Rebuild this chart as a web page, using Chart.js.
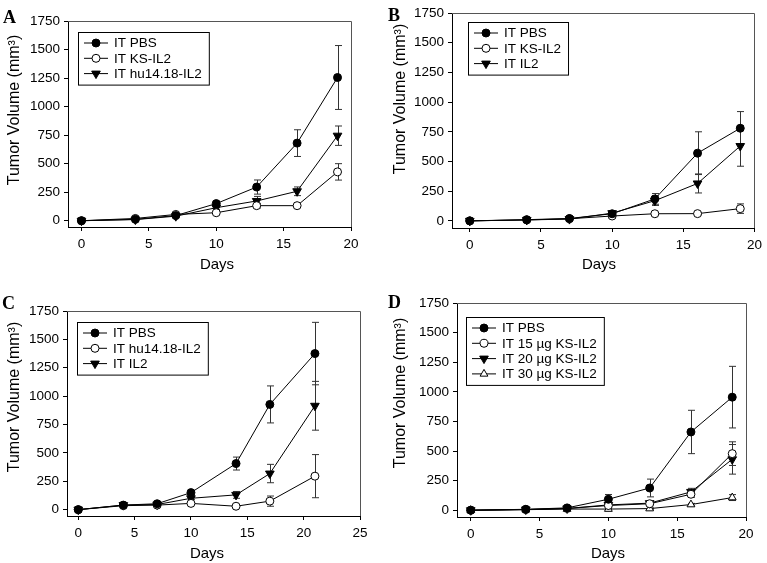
<!DOCTYPE html>
<html>
<head>
<meta charset="utf-8">
<script src="https://cdn.jsdelivr.net/npm/chart.js@4.4.1/dist/chart.umd.min.js"></script>
<style>
  body { margin: 0; background: #fff; }
  #fig { position: relative; width: 767px; height: 563px; }
  canvas { position: absolute; }
</style>
</head>
<body>
<div id="fig">
  <canvas id="panelA" width="383" height="280" style="left:0;top:0;width:383px;height:280px"></canvas>
  <canvas id="panelB" width="384" height="280" style="left:383px;top:0;width:384px;height:280px"></canvas>
  <canvas id="panelC" width="383" height="283" style="left:0;top:280px;width:383px;height:283px"></canvas>
  <canvas id="panelD" width="384" height="283" style="left:383px;top:280px;width:384px;height:283px"></canvas>
</div>
<script>
// Tick values
var yTicks = [0, 250, 500, 750, 1000, 1250, 1500, 1750];
var xTicks20 = [0, 5, 10, 15, 20];
var xTicks25 = [0, 5, 10, 15, 20, 25];

// Panel A
var daysA = [0, 4, 7, 10, 13, 16, 19];
var aPBS = [0, 12, 45, 150, 295, 680, 1255];
var aPBSErr = [0, 4, 6, 20, 62, 117, 280];
var aKS = [0, 20, 55, 70, 132, 132, 428];
var aKSErr = [0, 4, 5, 10, 20, 8, 72];
var aHu = [0, 10, 40, 114, 173, 258, 745];
var aHuErr = [0, 3, 5, 15, 40, 38, 85];

// Panel B
var daysB = [0, 4, 7, 10, 13, 16, 19];
var bPBS = [0, 10, 20, 60, 185, 570, 780];
var bPBSErr = [0, 3, 5, 8, 45, 180, 140];
var bKS = [0, 8, 18, 41, 60, 61, 103];
var bKSErr = [0, 3, 3, 5, 8, 10, 40];
var bIL2 = [0, 8, 15, 65, 170, 315, 630];
var bIL2Err = [0, 3, 3, 8, 40, 80, 170];

// Panel C
var daysC = [0, 4, 7, 10, 14, 17, 21];
var cPBS = [0, 40, 52, 150, 406, 927, 1375];
var cPBSErr = [0, 5, 8, 20, 57, 163, 275];
var cHu = [0, 35, 40, 55, 30, 75, 295];
var cHuErr = [0, 5, 5, 8, 8, 45, 190];
var cIL2 = [0, 40, 45, 100, 130, 318, 915];
var cIL2Err = [0, 5, 5, 12, 30, 81, 215];

// Panel D
var daysD = [0, 4, 7, 10, 13, 16, 19];
var dPBS = [0, 8, 20, 93, 188, 661, 955];
var dPBSErr = [0, 3, 5, 40, 75, 183, 260];
var d15 = [0, 6, 15, 40, 55, 135, 478];
var d15Err = [0, 2, 3, 8, 10, 25, 100];
var d20 = [0, 6, 15, 45, 60, 155, 430];
var d20Err = [0, 2, 3, 8, 10, 30, 125];
var d30 = [0, 5, 10, 10, 14, 48, 107];
var d30Err = [0, 2, 3, 5, 5, 10, 25];

var SANS = "'Liberation Sans', Arial, sans-serif";
var SERIF = "'Liberation Serif', 'Times New Roman', serif";

// marker styles
var STYLE = {
    solidCircle: { pointStyle: 'circle', rotation: 0, radius: 4, fill: '#000' },
    openCircle: { pointStyle: 'circle', rotation: 0, radius: 4, fill: '#fff' },
    solidTriDown: { pointStyle: 'triangle', rotation: 180, radius: 5, fill: '#000' },
    openTriUp: { pointStyle: 'triangle', rotation: 0, radius: 4.5, fill: '#fff' }
};

function series(label, days, values, errs, style) {
    var s = STYLE[style];
    return {
        label: label,
        data: days.map(function(d, i) { return { x: d, y: values[i] }; }),
        err: errs,
        marker: s,
        borderColor: '#000',
        borderWidth: 1,
        tension: 0,
        pointStyle: s.pointStyle,
        pointRotation: s.rotation,
        pointRadius: s.radius,
        pointBackgroundColor: s.fill,
        pointBorderColor: '#000',
        pointBorderWidth: 1
    };
}

// error bars, frame, legend, titles, panel letter
var panelDecor = {
    id: 'panelDecor',
    beforeDatasetsDraw: function(chart) {
        var ctx = chart.ctx;
        var ys = chart.scales.y;
        ctx.save();
        ctx.strokeStyle = '#333';
        ctx.lineWidth = 1;
        chart.data.datasets.forEach(function(ds, di) {
            var meta = chart.getDatasetMeta(di);
            ds.data.forEach(function(p, i) {
                var e = ds.err[i];
                if (!e) return;
                var x = Math.round(meta.data[i].x) + 0.5;
                var y1 = ys.getPixelForValue(p.y + e);
                var y2 = ys.getPixelForValue(p.y - e);
                ctx.beginPath();
                ctx.moveTo(x, y1); ctx.lineTo(x, y2);
                ctx.moveTo(x - 3.5, y1); ctx.lineTo(x + 3.5, y1);
                ctx.moveTo(x - 3.5, y2); ctx.lineTo(x + 3.5, y2);
                ctx.stroke();
            });
        });
        ctx.restore();
    },
    afterDraw: function(chart, args, opts) {
        var ctx = chart.ctx;
        var a = chart.chartArea;
        ctx.save();
        // top and right edges of the frame
        ctx.strokeStyle = '#555';
        ctx.lineWidth = 1;
        ctx.beginPath();
        ctx.moveTo(Math.round(a.left), Math.round(a.top) + 0.5);
        ctx.lineTo(Math.round(a.right) + 0.5, Math.round(a.top) + 0.5);
        ctx.lineTo(Math.round(a.right) + 0.5, Math.round(a.bottom));
        ctx.stroke();

        // legend
        var lg = opts.legend;
        ctx.font = '13.5px ' + SANS;
        var maxW = 0;
        chart.data.datasets.forEach(function(ds) {
            maxW = Math.max(maxW, ctx.measureText(ds.label).width);
        });
        var n = chart.data.datasets.length;
        var w = 36 + maxW + 7;
        var h = 22 + (n - 1) * 15.3;
        ctx.strokeStyle = '#000';
        ctx.strokeRect(lg.x + 0.5, lg.y + 0.5, w, h);
        chart.data.datasets.forEach(function(ds, i) {
            var yy = lg.y + 11 + i * 15.3;
            ctx.strokeStyle = '#000';
            ctx.beginPath();
            ctx.moveTo(lg.x + 6, yy);
            ctx.lineTo(lg.x + 30, yy);
            ctx.stroke();
            ctx.fillStyle = ds.marker.fill;
            ctx.strokeStyle = '#000';
            ctx.lineWidth = 1;
            Chart.helpers.drawPoint(ctx, {
                pointStyle: ds.marker.pointStyle,
                rotation: ds.marker.rotation,
                radius: ds.marker.radius,
                borderWidth: 1
            }, lg.x + 18, yy);
            ctx.fillStyle = '#000';
            ctx.textBaseline = 'middle';
            ctx.textAlign = 'left';
            ctx.fillText(ds.label, lg.x + 36, yy + 0.5);
        });

        // axis titles
        ctx.fillStyle = '#000';
        ctx.textAlign = 'center';
        ctx.textBaseline = 'middle';
        ctx.font = '15px ' + SANS;
        ctx.fillText('Days', opts.xTitle.x, opts.xTitle.y);
        ctx.save();
        ctx.translate(opts.yTitle.x, opts.yTitle.y);
        ctx.rotate(-Math.PI / 2);
        ctx.font = '16px ' + SANS;
        ctx.fillText('Tumor Volume (mm\u00B3)', 0, 0);
        ctx.restore();

        // panel letter
        ctx.font = 'bold 18px ' + SERIF;
        ctx.textAlign = 'left';
        ctx.textBaseline = 'alphabetic';
        ctx.fillText(opts.letter.text, opts.letter.x, opts.letter.y);
        ctx.restore();
    }
};

function plainLabel(v) { return String(v); }

function makePanel(id, datasets, xMax, xTicks, lay) {
    var canvas = document.getElementById(id);
    var W = canvas.width, H = canvas.height;
    var tickOpts = { color: '#000', font: { family: SANS, size: 13.5 }, maxRotation: 0, autoSkip: false, callback: plainLabel };
    return new Chart(canvas, {
        type: 'line',
        data: { datasets: datasets },
        options: {
            responsive: false,
            animation: false,
            layout: { padding: { top: lay.top, right: W - lay.right, left: 0, bottom: 0 } },
            plugins: {
                legend: { display: false },
                tooltip: { enabled: false },
                panelDecor: {
                    legend: lay.legend,
                    xTitle: lay.xTitle,
                    yTitle: lay.yTitle,
                    letter: lay.letter
                }
            },
            scales: {
                x: {
                    type: 'linear',
                    min: lay.xMin,
                    max: xMax,
                    afterBuildTicks: function(s) { s.ticks = xTicks.map(function(v) { return { value: v }; }); },
                    afterFit: function(s) { s.height = H - lay.bottom; },
                    grid: { drawOnChartArea: false, drawTicks: true, tickLength: 4, color: '#000' },
                    border: { color: '#000' },
                    ticks: Object.assign({ padding: 5 }, tickOpts)
                },
                y: {
                    min: lay.yMin,
                    max: 1750,
                    afterBuildTicks: function(s) { s.ticks = yTicks.map(function(v) { return { value: v }; }); },
                    afterFit: function(s) { s.width = lay.left; },
                    grid: { drawOnChartArea: false, drawTicks: true, tickLength: 4, color: '#000' },
                    border: { color: '#000' },
                    ticks: Object.assign({ padding: 4 }, tickOpts)
                }
            }
        },
        plugins: [panelDecor]
    });
}

makePanel('panelA', [
    series('IT PBS', daysA, aPBS, aPBSErr, 'solidCircle'),
    series('IT KS-IL2', daysA, aKS, aKSErr, 'openCircle'),
    series('IT hu14.18-IL2', daysA, aHu, aHuErr, 'solidTriDown')
], 20, xTicks20, {
    left: 68, top: 21, right: 351, bottom: 227, xMin: -1, yMin: -55,
    legend: { x: 78, y: 32 }, xTitle: { x: 217, y: 265 }, yTitle: { x: 15, y: 110 },
    letter: { text: 'A', x: 3, y: 23 }
});

makePanel('panelB', [
    series('IT PBS', daysB, bPBS, bPBSErr, 'solidCircle'),
    series('IT KS-IL2', daysB, bKS, bKSErr, 'openCircle'),
    series('IT IL2', daysB, bIL2, bIL2Err, 'solidTriDown')
], 20, xTicks20, {
    left: 69, top: 13, right: 376, bottom: 228, xMin: -1.25, yMin: -60,
    legend: { x: 85, y: 22 }, xTitle: { x: 216, y: 265 }, yTitle: { x: 18, y: 99 },
    letter: { text: 'B', x: 5, y: 21 }
});

makePanel('panelC', [
    series('IT PBS', daysC, cPBS, cPBSErr, 'solidCircle'),
    series('IT hu14.18-IL2', daysC, cHu, cHuErr, 'openCircle'),
    series('IT IL2', daysC, cIL2, cIL2Err, 'solidTriDown')
], 25, xTicks25, {
    left: 67, top: 31, right: 360, bottom: 236, xMin: -1, yMin: -56,
    legend: { x: 77, y: 42 }, xTitle: { x: 207, y: 274 }, yTitle: { x: 15, y: 117 },
    letter: { text: 'C', x: 2, y: 29 }
});

makePanel('panelD', [
    series('IT PBS', daysD, dPBS, dPBSErr, 'solidCircle'),
    series('IT 15 \u00B5g KS-IL2', daysD, d15, d15Err, 'openCircle'),
    series('IT 20 \u00B5g KS-IL2', daysD, d20, d20Err, 'solidTriDown'),
    series('IT 30 \u00B5g KS-IL2', daysD, d30, d30Err, 'openTriUp')
], 20, xTicks20, {
    left: 74, top: 23, right: 363, bottom: 237, xMin: -1, yMin: -57,
    legend: { x: 83, y: 37 }, xTitle: { x: 225, y: 274 }, yTitle: { x: 18, y: 113 },
    letter: { text: 'D', x: 5, y: 28 }
});
</script>
</body>
</html>
